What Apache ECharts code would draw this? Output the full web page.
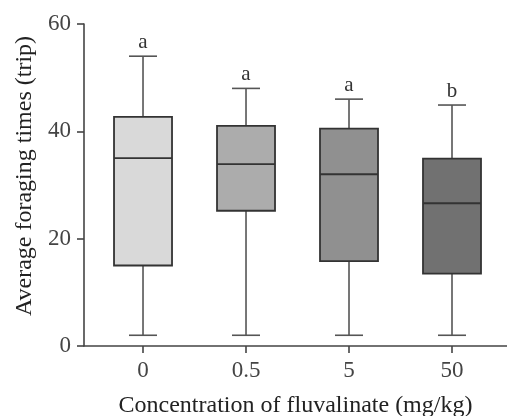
<!DOCTYPE html>
<html>
<head>
<meta charset="utf-8">
<script src="https://cdn.jsdelivr.net/npm/echarts@6/dist/echarts.min.js"></script>
<style>
    html, body { margin: 0; padding: 0; background: #fff; }
    #main { width: 507px; height: 416px; }
</style>
</head>
<body>
<div id="main"></div>
<script>
    // groups on the x axis
    var categories = ['0', '0.5', '5', '50'];
    // box stats
    var mins    = [2, 2, 2, 2];
    var q1s     = [15, 25.2, 15.8, 13.5];
    var medians = [35, 33.9, 32, 26.6];
    var q3s     = [42.7, 41, 40.5, 34.9];
    var maxs    = [54, 48, 46, 44.9];
    var letters = ['a', 'a', 'a', 'b'];
    var fills   = ['#d9d9d9', '#acacac', '#909090', '#717171'];
    var yTicks  = [0, 20, 40, 60];

    var boxData = categories.map(function (c, i) {
        return [i, mins[i], q1s[i], medians[i], q3s[i], maxs[i]];
    });

    var serif = '"Liberation Serif", "DejaVu Serif", serif';

    function renderBox(params, api) {
        var i = api.value(0);
        var pMin = api.coord([i, api.value(1)]);
        var pQ1 = api.coord([i, api.value(2)]);
        var pMed = api.coord([i, api.value(3)]);
        var pQ3 = api.coord([i, api.value(4)]);
        var pMax = api.coord([i, api.value(5)]);
        var half = 29;
        var cap = 14;
        var x = pMin[0];
        var whisker = { stroke: '#555', lineWidth: 1.6 };
        return {
            type: 'group',
            children: [
                { type: 'line', shape: { x1: x, y1: pMin[1], x2: x, y2: pQ1[1] }, style: whisker },
                { type: 'line', shape: { x1: x, y1: pQ3[1], x2: x, y2: pMax[1] }, style: whisker },
                { type: 'line', shape: { x1: x - cap, y1: pMin[1], x2: x + cap, y2: pMin[1] }, style: whisker },
                { type: 'line', shape: { x1: x - cap, y1: pMax[1], x2: x + cap, y2: pMax[1] }, style: whisker },
                {
                    type: 'rect',
                    shape: { x: x - half, y: pQ3[1], width: half * 2, height: pQ1[1] - pQ3[1] },
                    style: { fill: fills[params.dataIndex], stroke: '#333', lineWidth: 1.8 }
                },
                { type: 'line', shape: { x1: x - half, y1: pMed[1], x2: x + half, y2: pMed[1] }, style: { stroke: '#333', lineWidth: 1.8 } },
                {
                    type: 'text',
                    x: x, y: pMax[1] - 3,
                    style: {
                        text: letters[params.dataIndex],
                        fill: '#333',
                        font: '21px ' + serif,
                        align: 'center',
                        verticalAlign: 'bottom'
                    }
                }
            ]
        };
    }

    var chart = echarts.init(document.getElementById('main'));
    chart.setOption({
        animation: false,
        backgroundColor: '#fff',
        grid: { left: 84, right: 0, top: 24, bottom: 70, outerBoundsMode: 'none' },
        xAxis: {
            type: 'value',
            min: -0.573,
            max: 3.534,
            name: 'Concentration of fluvalinate (mg/kg)',
            nameLocation: 'middle',
            nameGap: 48,
            nameTextStyle: { fontFamily: serif, fontSize: 24, color: '#222' },
            splitLine: { show: false },
            axisLine: { onZero: false, lineStyle: { color: '#444', width: 1.6 } },
            axisTick: { customValues: [0, 1, 2, 3], length: 7, lineStyle: { color: '#444', width: 1.6 } },
            axisLabel: {
                customValues: [0, 1, 2, 3],
                margin: 13,
                fontFamily: serif,
                fontSize: 23,
                color: '#444',
                formatter: function (v) { return categories[Math.round(v)]; }
            }
        },
        yAxis: {
            type: 'value',
            min: 0,
            max: 60,
            interval: 20,
            name: 'Average foraging times (trip)',
            nameLocation: 'middle',
            nameGap: 42,
            nameTextStyle: { fontFamily: serif, fontSize: 24, color: '#222', padding: [0, 0, 0, 18] },
            splitLine: { show: false },
            axisLine: { show: true, onZero: false, lineStyle: { color: '#444', width: 1.6 } },
            axisTick: { show: true, length: 7, lineStyle: { color: '#444', width: 1.6 } },
            axisLabel: {
                margin: 13,
                fontFamily: serif,
                fontSize: 23,
                color: '#444',
                formatter: function (v) { return yTicks.indexOf(v) >= 0 ? String(v) : ''; }
            }
        },
        series: [{
            type: 'custom',
            renderItem: renderBox,
            encode: { x: 0, y: [1, 2, 3, 4, 5] },
            data: boxData
        }]
    });
</script>
</body>
</html>
